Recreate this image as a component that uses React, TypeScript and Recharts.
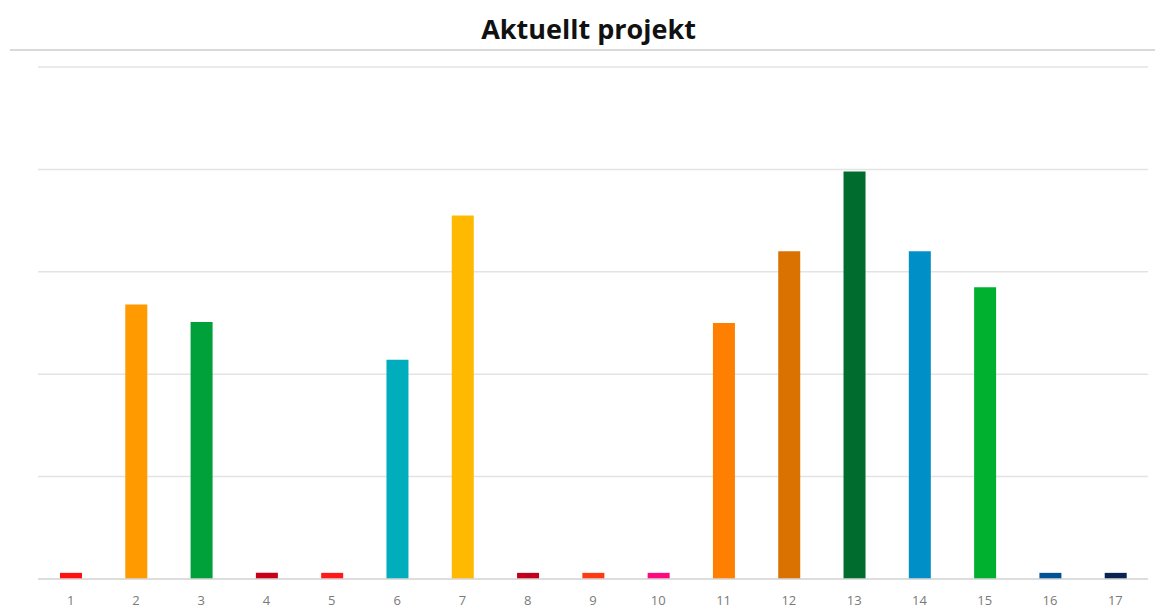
import React from "react";
import { BarChart, Bar, XAxis, YAxis, CartesianGrid, Cell } from "recharts";

const goals = ["1", "2", "3", "4", "5", "6", "7", "8", "9", "10", "11", "12", "13", "14", "15", "16", "17"];
const values = [0.06, 2.68, 2.51, 0.06, 0.06, 2.14, 3.55, 0.06, 0.06, 0.06, 2.5, 3.2, 3.98, 3.2, 2.85, 0.06, 0.06];
const colors = [
  "#ff1010", "#ff9a00", "#00a13a", "#c8001a", "#ff1a1a", "#00adbd", "#ffb900", "#c0001c",
  "#ff3a10", "#ff0a7e", "#ff8000", "#d97200", "#006d2e", "#008fc6", "#00b02f", "#005196", "#0a2452",
];
const yTicks = [0, 1, 2, 3, 4, 5];

const data = goals.map((g, i) => ({ goal: g, value: values[i] }));

export default function App() {
  return (
    <div
      style={{
        position: "absolute",
        top: 0,
        left: 0,
        width: 1155,
        height: 610,
        background: "#fff",
        fontFamily: "'Open Sans', sans-serif",
      }}
    >
      <div
        style={{
          position: "absolute",
          top: 11,
          left: 0,
          width: 1177,
          textAlign: "center",
          fontSize: 27,
          fontWeight: 700,
          color: "#111",
          lineHeight: "36px",
        }}
      >
        Aktuellt projekt
      </div>
      <div style={{ position: "absolute", top: 49, left: 10, width: 1145, height: 2, background: "#d9d9d9" }} />
      <div style={{ position: "absolute", top: 0, left: 0 }}>
        <BarChart
          width={1155}
          height={610}
          data={data}
          margin={{ top: 67, right: 7, bottom: 0, left: 38 }}
          barSize={22}
        >
          <CartesianGrid vertical={false} stroke="#e3e3e3" strokeWidth={1.5} />
          <XAxis
            dataKey="goal"
            height={31}
            tickLine={false}
            axisLine={{ stroke: "#d9d9d9", strokeWidth: 1.5 }}
            tick={{ fill: "#7a7a7a", fontSize: 13, fontFamily: "'Open Sans', sans-serif" }}
            tickMargin={11}
          />
          <YAxis hide domain={[0, 5]} ticks={yTicks} width={0} />
          <Bar dataKey="value" isAnimationActive={false}>
            {data.map((d, i) => (
              <Cell key={d.goal} fill={colors[i]} />
            ))}
          </Bar>
        </BarChart>
      </div>
    </div>
  );
}
